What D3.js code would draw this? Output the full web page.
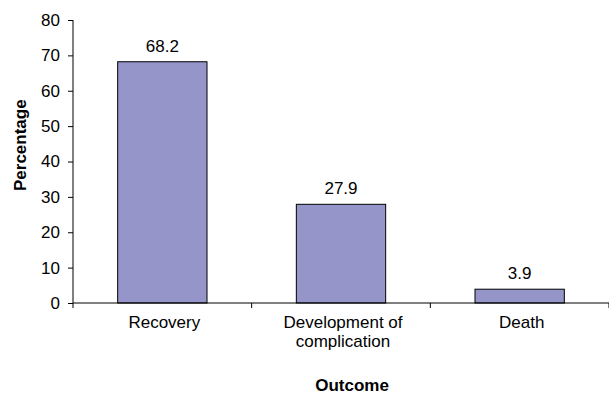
<!DOCTYPE html>
<html>
<head>
<meta charset="utf-8">
<script src="https://cdn.jsdelivr.net/npm/d3@7"></script>
<style>
  body { margin: 0; background: #fff; }
  svg { display: block; font-family: "Liberation Sans", Arial, sans-serif; }
</style>
</head>
<body>
<svg id="chart" width="609" height="396"></svg>
<script>
// Outcome distribution (percentages)
const categories = ["Recovery", "Development of\ncomplication", "Death"];
const values = [68.2, 27.9, 3.9];
const yTicks = [0, 10, 20, 30, 40, 50, 60, 70, 80];

const svg = d3.select("#chart");
const plotLeft = 73, plotRight = 609, plotTop = 20, plotBottom = 303;

const x = d3.scaleBand().domain(categories).range([plotLeft, plotRight]).paddingInner(0.5).paddingOuter(0.25);
const y = d3.scaleLinear().domain([0, 80]).range([plotBottom, plotTop]);

// bars
svg.selectAll("rect.bar").data(values).join("rect")
  .attr("class", "bar")
  .attr("x", (d, i) => x(categories[i]))
  .attr("width", x.bandwidth())
  .attr("y", d => y(d))
  .attr("height", d => y(0) - y(d))
  .attr("fill", "#9595c9")
  .attr("stroke", "#000")
  .attr("stroke-width", 1);

// value labels
svg.selectAll("text.val").data(values).join("text")
  .attr("class", "val")
  .attr("x", (d, i) => x(categories[i]) + x.bandwidth() / 2)
  .attr("y", d => y(d) - 10)
  .attr("text-anchor", "middle")
  .attr("font-size", 17)
  .text(d => d.toFixed(1));

// y axis
const yAxis = svg.append("g").attr("transform", `translate(${plotLeft},0)`)
  .call(d3.axisLeft(y).tickValues(yTicks).tickSize(5).tickPadding(8).tickFormat(d3.format("d")));
yAxis.select(".domain").attr("d", `M0,${plotTop}V${plotBottom}`);
yAxis.selectAll("text").attr("font-size", 17).attr("font-family", "Liberation Sans, Arial, sans-serif").attr("fill", "#000");

// x axis line with tick marks at category boundaries
const xg = svg.append("g");
xg.append("line").attr("x1", plotLeft).attr("x2", plotRight).attr("y1", plotBottom).attr("y2", plotBottom)
  .attr("stroke", "#000");
const bounds = d3.range(categories.length + 1).map(i => plotLeft + i * (plotRight - plotLeft) / categories.length);
xg.selectAll("line.tk").data(bounds).join("line")
  .attr("class", "tk")
  .attr("x1", d => d).attr("x2", d => d)
  .attr("y1", plotBottom).attr("y2", plotBottom + 5)
  .attr("stroke", "#000");

// category labels
svg.selectAll("text.cat").data(categories).join("text")
  .attr("class", "cat")
  .attr("text-anchor", "middle")
  .attr("font-size", 17)
  .each(function (d) {
    const cx = x(d) + x.bandwidth() / 2 + 2;
    d.split("\n").forEach((line, k) => {
      d3.select(this).append("tspan").attr("x", cx).attr("y", 328 + k * 19).text(line);
    });
  });

// axis titles
svg.append("text")
  .attr("transform", "translate(26,191) rotate(-90)")
  .attr("text-anchor", "start")
  .attr("font-size", 17).attr("font-weight", "bold")
  .text("Percentage");

svg.append("text")
  .attr("x", 352).attr("y", 391)
  .attr("text-anchor", "middle")
  .attr("font-size", 17).attr("font-weight", "bold")
  .text("Outcome");
</script>
</body>
</html>
